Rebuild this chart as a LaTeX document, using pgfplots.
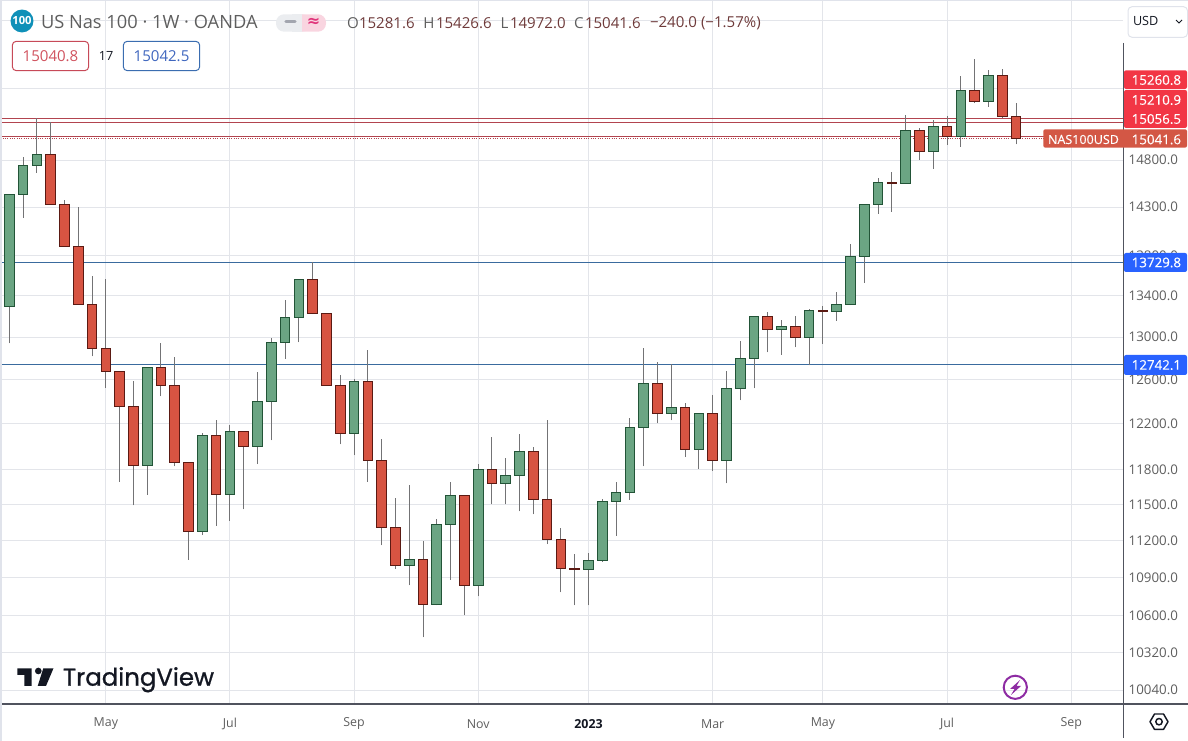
\documentclass[border=0pt]{standalone}
\usepackage{fontspec}
\usepackage{pgfplots}
\pgfplotsset{compat=1.18}
\setmainfont{Open Sans}
\newfontfamily\djv{DejaVu Sans}
\newfontfamily\tvf{Poppins}[FakeBold=0.9]
\newfontfamily\bdg{Open Sans}[FakeBold=0.25]
\definecolor{gridc}{HTML}{E3E5EA}
\definecolor{edgec}{HTML}{E0E3EB}
\definecolor{axisc}{HTML}{50535E}
\definecolor{txtc}{HTML}{5E5E5E}
\definecolor{fup}{HTML}{6BA583}
\definecolor{gup}{HTML}{225437}
\definecolor{fdn}{HTML}{D75442}
\definecolor{gdn}{HTML}{5B1A13}
\definecolor{wick}{HTML}{737375}
\definecolor{redl}{HTML}{B2444F}
\definecolor{bluel}{HTML}{3A6B9E}
\definecolor{badger}{HTML}{F23645}
\definecolor{badgeb}{HTML}{2962FF}
\definecolor{badgeg}{HTML}{D35745}
\definecolor{ohlcv}{HTML}{6E3A3A}
\definecolor{tvk}{HTML}{131722}
\definecolor{purp}{HTML}{8E2CA3}
\definecolor{logoc}{HTML}{0F90B8}
\definecolor{pillg}{HTML}{EBEDF0}
\definecolor{pillp}{HTML}{F9D5E0}
\definecolor{pilld}{HTML}{A3A6AF}
\definecolor{pillm}{HTML}{E0357A}
\definecolor{boxrt}{HTML}{D0525E}
\definecolor{boxrl}{HTML}{C74A58}
\definecolor{boxbt}{HTML}{3F66BE}
\definecolor{boxbl}{HTML}{3B6DB0}
\pgfplotsset{
  candleup/.style={draw=gup,fill=fup,line width=0.75pt},
  candledn/.style={draw=gdn,fill=fdn,line width=0.75pt},
}
% weekly candles: index, open, high, low, close
\newcommand{\candle}[6]{%
  \pgfmathsetmacro\xa{#2-0.35}\pgfmathsetmacro\xb{#2+0.35}%
  \addplot[draw=wick,line width=0.75pt] coordinates {(#2,#5)(#2,#4)};
  \addplot[#1] coordinates {(\xa,#3)(\xb,#3)(\xb,#6)(\xa,#6)} -- cycle;
}
\newcommand{\U}[5]{\candle{candleup}{#1}{#2}{#3}{#4}{#5}}
\newcommand{\D}[5]{\candle{candledn}{#1}{#2}{#3}{#4}{#5}}
\newcommand{\PX}[2]{({(#1)*0.75pt},{(741-(#2))*0.75pt})}
\begin{document}
\begin{tikzpicture}[every node/.style={inner sep=0pt,outer sep=0pt}]
\path[use as bounding box] (0,0) rectangle (891pt,555.75pt);
\begin{axis}[
  at={(1.5pt,27.75pt)},anchor=south west,
  scale only axis,width=840.975pt,height=528pt,
  xmin=-0.529,xmax=80.78,ymode=log,ymin=9939.8,ymax=16643,
  axis line style={draw=none},
  tick style={draw=none},major tick length=0pt,
  axis x line*=bottom,axis y line*=right,
  xtick={7,16,25,34,42,51,59,68,77},
  xticklabels={May,Jul,Sep,Nov,\textbf{\textcolor{tvk}{2023}},Mar,May,Jul,Sep},
  ytick={10040,10320,10600,10900,11200,11500,11800,12200,12600,13000,13400,13800,14300,14800,15600,16400},
  yticklabels={10040.0,10320.0,10600.0,10900.0,11200.0,11500.0,11800.0,12200.0,12600.0,13000.0,13400.0,13800.0,14300.0,14800.0,,},
  grid=major,major grid style={draw=gridc,line width=0.75pt},
  yticklabel style={text=txtc,font=\fontsize{10.0}{12}\selectfont,anchor=west,xshift=4pt},
  xticklabel style={text=txtc,font=\fontsize{9.3}{11}\selectfont,anchor=center,yshift=-15pt},
]
\addplot[draw=redl,line width=0.8pt] coordinates {(-1,15260.8)(81,15260.8)};
\addplot[draw=redl,line width=0.8pt] coordinates {(-1,15210.9)(81,15210.9)};
\addplot[draw=redl,line width=0.8pt] coordinates {(-1,15056.5)(81,15056.5)};
\addplot[draw=redl,line width=0.75pt,densely dotted] coordinates {(-1,15041.6)(81,15041.6)};
\addplot[draw=bluel,line width=0.8pt] coordinates {(-1,13729.8)(81,13729.8)};
\addplot[draw=bluel,line width=0.8pt] coordinates {(-1,12742.1)(81,12742.1)};
\U{0}{13299}{14436}{12941}{14436}
\U{1}{14436}{14836}{14191}{14746}
\U{2}{14746}{15262}{14666}{14865}
\D{3}{14865}{15217}{14331}{14331}
\D{4}{14331}{14373}{13897}{13897}
\D{5}{13897}{14302}{13319}{13319}
\D{6}{13319}{13598}{12818}{12897}
\D{7}{12897}{13568}{12530}{12673}
\D{8}{12673}{12673}{11696}{12361}
\D{9}{12361}{12592}{11493}{11838}
\U{10}{11838}{12719}{11586}{12719}
\D{11}{12719}{12948}{12448}{12552}
\D{12}{12552}{12815}{11826}{11864}
\D{13}{11864}{11864}{11046}{11279}
\U{14}{11279}{12121}{11251}{12101}
\D{15}{12101}{12237}{11326}{11589}
\U{16}{11589}{12192}{11367}{12136}
\D{17}{12136}{12136}{11460}{11996}
\U{18}{11996}{12675}{11847}{12406}
\U{19}{12406}{12992}{12054}{12954}
\U{20}{12954}{13361}{12799}{13193}
\U{21}{13193}{13565}{12950}{13565}
\D{22}{13565}{13735}{13222}{13231}
\D{23}{13231}{13231}{12552}{12552}
\D{24}{12552}{12648}{12019}{12119}
\U{25}{12119}{12608}{11922}{12589}
\D{26}{12589}{12881}{11696}{11881}
\D{27}{11881}{12069}{11162}{11312}
\D{28}{11312}{11558}{10975}{11003}
\U{29}{11003}{11669}{10840}{11044}
\D{30}{11044}{11200}{10435}{10693}
\U{31}{10693}{11381}{10682}{11337}
\U{32}{11337}{11694}{10887}{11581}
\D{33}{11581}{11581}{10604}{10843}
\U{34}{10843}{11849}{10753}{11803}
\D{35}{11803}{12086}{11502}{11683}
\U{36}{11683}{11902}{11502}{11751}
\U{37}{11751}{12113}{11443}{11961}
\D{38}{11961}{11998}{11418}{11547}
\D{39}{11547}{12237}{11173}{11214}
\D{40}{11214}{11306}{10785}{10979}
\D{41}{10979}{11095}{10682}{10963}
\U{42}{10963}{11101}{10682}{11036}
\U{43}{11036}{11547}{11028}{11530}
\U{44}{11530}{11691}{11243}{11606}
\U{45}{11606}{12252}{11543}{12172}
\U{46}{12172}{12900}{11826}{12571}
\D{47}{12571}{12766}{12204}{12297}
\U{48}{12297}{12747}{12231}{12348}
\D{49}{12348}{12388}{11908}{11978}
\U{50}{11978}{12297}{11808}{12297}
\D{51}{12297}{12464}{11791}{11881}
\U{52}{11881}{12682}{11680}{12525}
\U{53}{12525}{12966}{12412}{12803}
\U{54}{12803}{13203}{12521}{13203}
\D{55}{13203}{13244}{12856}{13074}
\U{56}{13074}{13164}{12834}{13107}
\D{57}{13107}{13203}{12903}{12998}
\U{58}{12998}{13273}{12734}{13260}
\D{59}{13260}{13302}{12938}{13250}
\U{60}{13250}{13436}{13160}{13319}
\U{61}{13319}{13920}{13309}{13795}
\U{62}{13795}{14331}{13531}{14331}
\U{63}{14331}{14606}{14232}{14563}
\D{64}{14563}{14670}{14253}{14548}
\U{65}{14552}{15296}{14552}{15129}
\D{66}{15129}{15151}{14806}{14898}
\U{67}{14898}{15240}{14709}{15173}
\D{68}{15173}{15284}{14971}{15063}
\U{69}{15063}{15739}{14948}{15579}
\D{70}{15579}{15936}{15431}{15453}
\U{71}{15453}{15808}{15392}{15751}
\D{72}{15751}{15820}{15269}{15284}
\D{73}{15281.6}{15426.6}{14972.0}{15041.6}
\end{axis}
% chrome
\fill[edgec] \PX{0}{0} rectangle \PX{2}{741};
\fill[edgec] \PX{0}{0} rectangle \PX{1188}{1};
\draw[axisc,line width=0.8pt] \PX{2}{704} -- \PX{1188}{704};
\draw[axisc,line width=0.8pt] \PX{1123.3}{43} -- \PX{1123.3}{738};
% price badges
\fill[badger,rounded corners=1.5pt] \PX{1124}{70.3} rectangle \PX{1187}{89};
\fill[badger,rounded corners=1.5pt] \PX{1124}{90} rectangle \PX{1187}{128};
\fill[badgeg,rounded corners=1.5pt] \PX{1043.3}{129.3} rectangle \PX{1187}{147.7};
\fill[badgeb,rounded corners=1.5pt] \PX{1124}{253} rectangle \PX{1187}{272};
\fill[badgeb,rounded corners=1.5pt] \PX{1124}{355} rectangle \PX{1187}{375};
\begin{scope}[every node/.append style={font=\bdg\fontsize{10.0}{12}\selectfont,text=white,anchor=east}]
\node at \PX{1181}{80} {15260.8};
\node at \PX{1181}{100} {15210.9};
\node at \PX{1181}{119} {15056.5};
\node at \PX{1181}{139.5} {15041.6};
\node at \PX{1181}{262.5} {13729.8};
\node at \PX{1181}{365} {12742.1};
\end{scope}
\node[anchor=west,text=white,font=\bdg\fontsize{9.4}{11}\selectfont] at \PX{1048}{139.5} {NAS100USD};
% header
\fill[logoc] \PX{22}{21} circle (8.6pt);
\node[text=white,font=\fontsize{8.4}{10}\selectfont\bfseries] at \PX{22}{21} {100};
\node[anchor=west,text=txtc,font=\fontsize{13.7}{16}\selectfont] at \PX{41}{22} {US Nas 100 · 1W · OANDA};
\fill[pillg,rounded corners=6pt] \PX{276}{14.3} rectangle \PX{310}{31.7};
\fill[pillp,rounded corners=6pt] \PX{292}{14.3} rectangle \PX{326}{31.7};
\fill[pillg] \PX{292}{14.3} rectangle \PX{301.7}{31.7};
\draw[pilld,line width=2.6pt,line cap=round] \PX{286}{21.5} -- \PX{295}{21.5};
\node[text=pillm,font=\djv\fontsize{12}{14}\selectfont\bfseries] at \PX{313.5}{22} {≈};
\begin{scope}[every node/.append style={font=\fontsize{11.3}{13}\selectfont,anchor=west}]
\node[text=txtc] at \PX{347}{23} {O};
\node[text=ohlcv] at \PX{359}{23} {15281.6};
\node[text=txtc] at \PX{423.3}{23} {H};
\node[text=ohlcv] at \PX{436}{23} {15426.6};
\node[text=txtc] at \PX{500.7}{23} {L};
\node[text=ohlcv] at \PX{510}{23} {14972.0};
\node[text=txtc] at \PX{574}{23} {C};
\node[text=ohlcv] at \PX{585}{23} {15041.6};
\node[text=ohlcv] at \PX{650}{23} {−240.0 (−1.57\%)};
\end{scope}
\draw[boxrl,line width=0.75pt,rounded corners=3pt] \PX{12.3}{41.3} rectangle \PX{88.7}{70.7};
\node[text=boxrt,font=\fontsize{11.3}{13}\selectfont] at \PX{50.5}{56} {15040.8};
\node[text=tvk,font=\fontsize{9.5}{11}\selectfont] at \PX{106}{56} {17};
\draw[boxbl,line width=0.75pt,rounded corners=3pt] \PX{123.3}{41.3} rectangle \PX{199.7}{70.7};
\node[text=boxbt,font=\fontsize{11.3}{13}\selectfont] at \PX{161.5}{56} {15042.5};
\draw[edgec,line width=0.75pt,rounded corners=3pt,fill=white] \PX{1128}{6.7} rectangle \PX{1187.5}{37.3};
\node[anchor=west,text=tvk,font=\fontsize{9.5}{11}\selectfont] at \PX{1133}{21} {USD};
\draw[tvk,line width=0.6pt] \PX{1176}{20} -- \PX{1179}{23} -- \PX{1182}{20};
% TradingView logo
\fill[tvk] \PX{17.3}{668.3} -- \PX{31.7}{668.3} -- \PX{31.7}{686} -- \PX{24.3}{686} -- \PX{24.3}{675} -- \PX{17.3}{675} -- cycle;
\fill[tvk] \PX{38.3}{671} circle (2.5pt);
\fill[tvk] \PX{43.3}{668.3} -- \PX{53.5}{668.3} -- \PX{46}{686} -- \PX{37.7}{686} -- cycle;
\node[anchor=base west,text=tvk,font=\tvf\fontsize{18.3}{20}\selectfont] at \PX{63}{685.7} {TradingView};
% icons
\draw[purp,line width=1.5pt] \PX{1015.3}{687.3} circle (8.7pt);
\fill[purp] \PX{1020}{680} -- \PX{1010}{689} -- \PX{1014.5}{689} -- \PX{1011}{695} -- \PX{1021}{686} -- \PX{1016.5}{686} -- cycle;
\draw[tvk,line width=1.1pt,line join=round] \PX{1150}{721.7} -- \PX{1154.5}{714} -- \PX{1163.5}{714} -- \PX{1168}{721.7} -- \PX{1163.5}{729.4} -- \PX{1154.5}{729.4} -- cycle;
\draw[tvk,line width=1.1pt] \PX{1159}{721.7} circle (2.4pt);
\end{tikzpicture}
\end{document}
